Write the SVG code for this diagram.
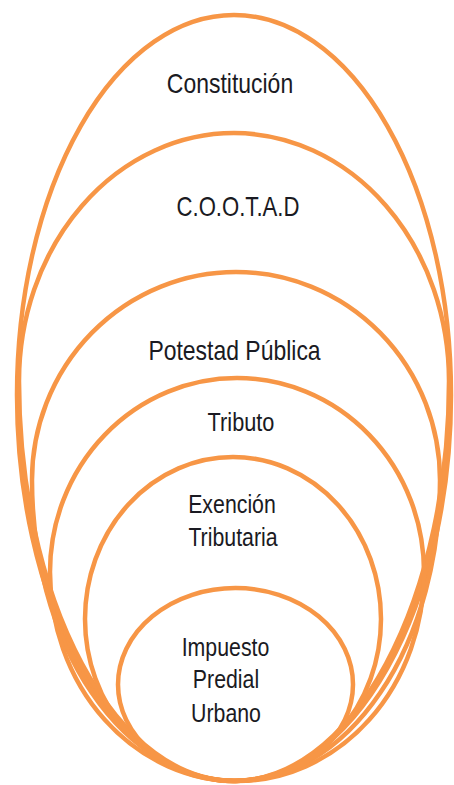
<svg xmlns="http://www.w3.org/2000/svg" width="454" height="785" viewBox="0 0 454 785">
<style>
.ring{fill:none;stroke:#F79646;stroke-width:4.5}
.lbl{font-family:"Liberation Sans",Arial,sans-serif;fill:#1a1a22;text-anchor:middle}
</style>
<rect width="454" height="785" fill="#ffffff"/>
<g id="connectors"/>
<g id="constitucion">
<path class="ring" d="M17,395 A217,380 0 0 1 451,395 A217,386 0 0 1 17,395 Z"/>
<text class="lbl" font-size="28" transform="matrix(0.82 0 0 1 230 93)">Constitución</text>
</g>
<g id="cootad">
<path class="ring" d="M19,381 A215,248 0 0 1 449,381 A215,400 0 0 1 19,381 Z"/>
<text class="lbl" font-size="27" transform="matrix(0.82 0 0 1 238 216)">C.O.O.T.A.D</text>
</g>
<g id="potestad">
<path class="ring" d="M32,480 A204,208 0 0 1 440,480 A204,301 0 0 1 32,480 Z"/>
<text class="lbl" font-size="28" transform="matrix(0.82 0 0 1 234.5 360)">Potestad Pública</text>
</g>
<g id="tributo">
<path class="ring" d="M50,572 A187,194 0 0 1 424,572 A187,209 0 0 1 50,572 Z"/>
<text class="lbl" font-size="26.5" transform="matrix(0.82 0 0 1 241 431)">Tributo</text>
</g>
<g id="exencion">
<ellipse class="ring" cx="233" cy="619" rx="148" ry="162"/>
<text class="lbl" font-size="26" transform="matrix(0.82 0 0 1 232 513)">Exención</text>
<text class="lbl" font-size="26" transform="matrix(0.82 0 0 1 233 546)">Tributaria</text>
</g>
<g id="impuesto">
<ellipse class="ring" cx="235.5" cy="684.5" rx="117.5" ry="96.5"/>
<text class="lbl" font-size="26" transform="matrix(0.82 0 0 1 225.5 656)">Impuesto</text>
<text class="lbl" font-size="26" transform="matrix(0.82 0 0 1 226 688)">Predial</text>
<text class="lbl" font-size="26" transform="matrix(0.82 0 0 1 226 722)">Urbano</text>
</g>
</svg>
